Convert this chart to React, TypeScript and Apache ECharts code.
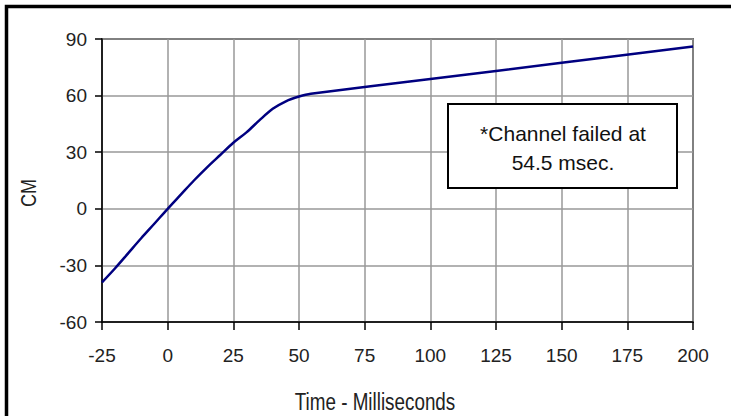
import React, { useEffect, useRef } from "react";
import * as echarts from "echarts";

const timeMs = [-25, -20, -15, -10, -5, 0, 5, 10, 15, 20, 25, 30, 35, 40, 45, 50, 54.5, 100, 150, 200];
const cmValues = [-39, -31.5, -23.5, -15.5, -7.8, 0, 7.5, 15, 22, 28.5, 35, 40.5, 47, 53, 57, 59.5, 61, 68.8, 77.4, 86];
const xTicks = { min: -25, max: 200, interval: 25 };
const yTicks = { min: -60, max: 90, interval: 30 };
const xTitle = "Time - Milliseconds";
const yTitle = "CM";
const noteLines = ["*Channel failed at", "54.5 msec."];

const SANS = "'Liberation Sans', Arial, sans-serif";

export default function App() {
  const ref = useRef<HTMLDivElement>(null);
  useEffect(() => {
    if (!ref.current) return;
    const chart = echarts.init(ref.current, null, { renderer: "svg" });
    const data = timeMs.map((t, i) => [t, cmValues[i]]);
    chart.setOption({
      animation: false,
      backgroundColor: "#fff",
      grid: {
        left: 102,
        top: 39,
        width: 591,
        height: 283,
        show: true,
        borderColor: "#000",
        borderWidth: 1.5,
        backgroundColor: "transparent",
      },
      xAxis: {
        type: "value",
        min: xTicks.min,
        max: xTicks.max,
        interval: xTicks.interval,
        axisLine: { show: true, onZero: false, lineStyle: { color: "#000", width: 1.5 } },
        axisTick: { show: true, length: 8, lineStyle: { color: "#000", width: 1.5 } },
        splitLine: { show: true, lineStyle: { color: "#999", width: 1.5 } },
        axisLabel: { color: "#222", fontFamily: SANS, fontSize: 19, margin: 24 },
      },
      yAxis: {
        type: "value",
        min: yTicks.min,
        max: yTicks.max,
        interval: yTicks.interval,
        axisLine: { show: true, onZero: false, lineStyle: { color: "#000", width: 1.5 } },
        axisTick: { show: true, length: 7, lineStyle: { color: "#000", width: 1.5 } },
        splitLine: { show: true, lineStyle: { color: "#999", width: 1.5 } },
        axisLabel: { color: "#222", fontFamily: SANS, fontSize: 19, margin: 15 },
      },
      series: [
        {
          type: "line",
          data,
          smooth: 0.3,
          showSymbol: false,
          lineStyle: { color: "#000080", width: 2.5 },
          z: 3,
        },
      ],
      graphic: [
        {
          type: "rect",
          shape: { x: 6.5, y: 6.5, width: 760, height: 440 },
          style: { fill: "none", stroke: "#000", lineWidth: 3.5 },
          z: 10,
        },
        {
          type: "rect",
          shape: { x: 448, y: 104, width: 229, height: 84 },
          style: { fill: "#fff", stroke: "#000", lineWidth: 2 },
          z: 10,
        },
        {
          type: "text",
          x: 563,
          y: 133,
          style: { text: noteLines[0], fontFamily: SANS, fontSize: 21, fill: "#111", align: "center", verticalAlign: "middle" },
          z: 11,
        },
        {
          type: "text",
          x: 563,
          y: 162,
          style: { text: noteLines[1], fontFamily: SANS, fontSize: 21, fill: "#111", align: "center", verticalAlign: "middle" },
          z: 11,
        },
        {
          type: "text",
          x: 375,
          y: 402,
          scaleX: 0.82,
          style: { text: xTitle, fontFamily: SANS, fontSize: 23, fill: "#222", align: "center", verticalAlign: "middle" },
          z: 11,
        },
        {
          type: "text",
          x: 28,
          y: 193,
          rotation: Math.PI / 2,
          scaleX: 0.82,
          style: { text: yTitle, fontFamily: SANS, fontSize: 22, fill: "#222", align: "center", verticalAlign: "middle" },
          z: 11,
        },
      ],
    });
    return () => chart.dispose();
  }, []);
  return (
    <div
      ref={ref}
      style={{ position: "fixed", left: 0, top: 0, width: 731, height: 416, background: "#fff" }}
    />
  );
}
